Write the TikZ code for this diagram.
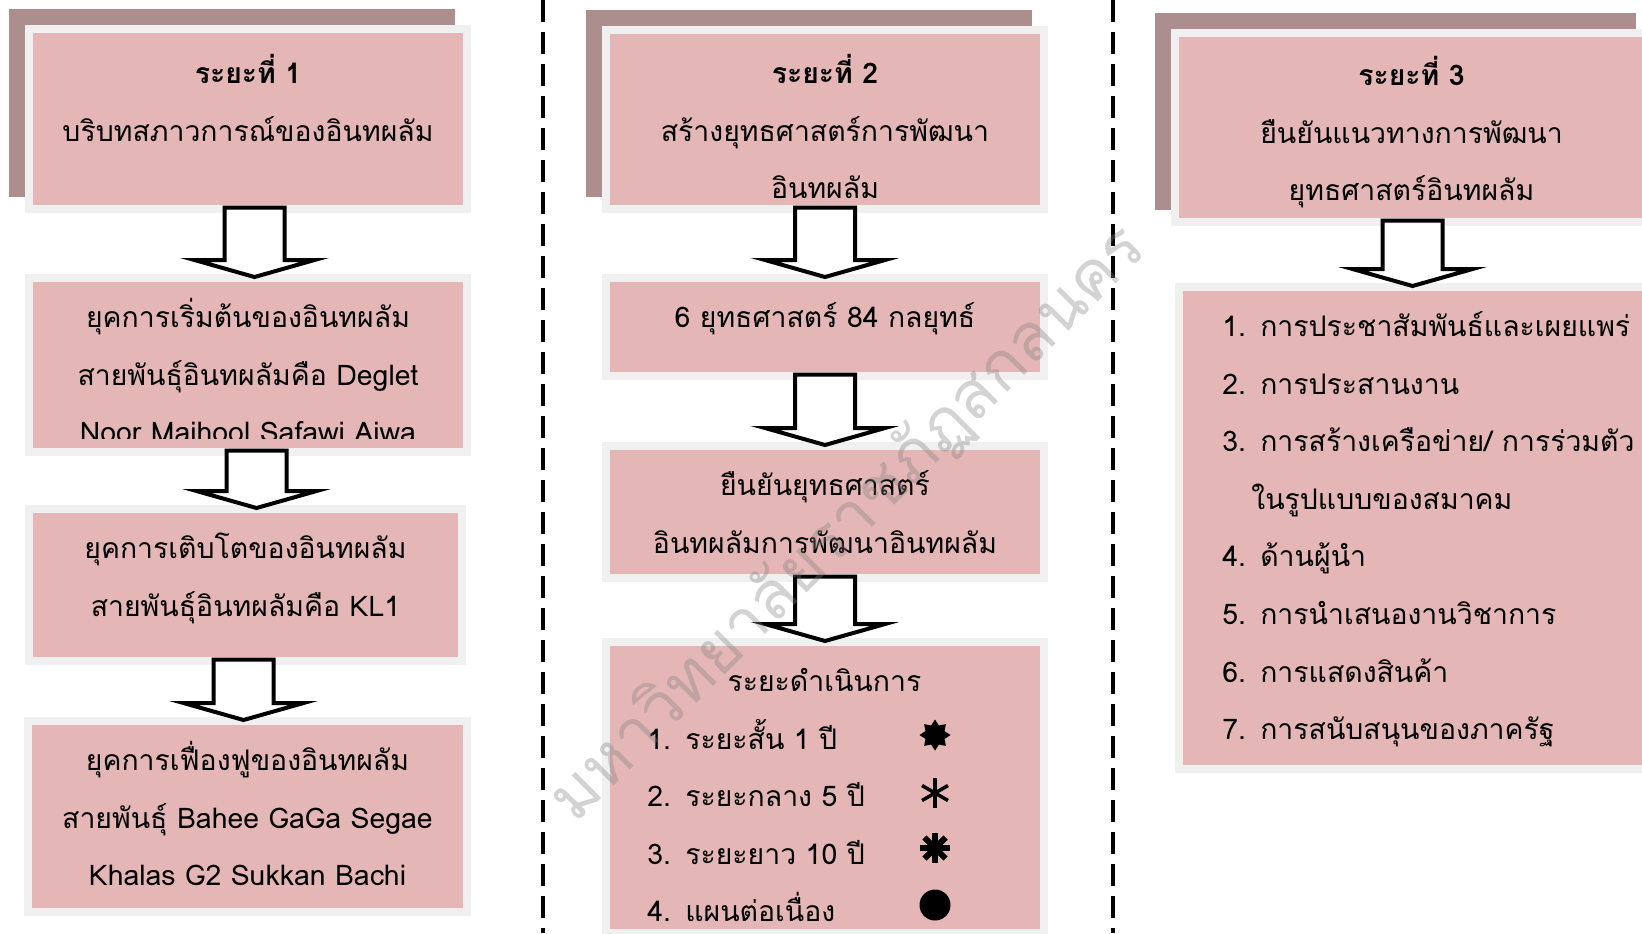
\documentclass[tikz,border=0pt]{standalone}
\usepackage{fontspec}
\setmainfont[Script=Thai]{Loma}
\newfontfamily\thaifont[Script=Thai]{Loma}
\usepackage{tikz}
\usetikzlibrary{positioning, calc, shapes.geometric}

\definecolor{boxpink}{RGB}{228,182,182}
\definecolor{framegrey}{RGB}{240,240,240}
\definecolor{shadowmauve}{RGB}{173,142,143}

% outlined block arrow from the bottom of one box to the top of the next
\newcommand{\stagearrow}[3][0pt]{%
  \draw[blockarrow] let \p1=($(#2.south)+(#1,0)$), \p2=(#3.north) in
    (\x1-15pt,\y1-1.25pt) -- (\x1-15pt,\y2+11pt) -- (\x1-30pt,\y2+11pt)
    -- (\x1,\y2+2.5pt) -- (\x1+30pt,\y2+11pt) -- (\x1+15pt,\y2+11pt)
    -- (\x1+15pt,\y1-1.25pt) -- cycle;}

\begin{document}
\begin{tikzpicture}[x=0.5pt, y=-0.5pt,
    stagebox/.style={rectangle, fill=boxpink, inner sep=0pt, outer sep=0pt,
      preaction={draw=framegrey, line width=8pt}},
    headbox/.style={preaction={fill=shadowmauve, draw=shadowmauve, line width=8pt,
      transform canvas={shift={(-8.25pt,8.25pt)}}}, stagebox},
    boxtext/.style={inner sep=0pt, align=center, text width=#1,
      execute at begin node={\rule{0pt}{20pt}},
      font=\thaifont\fontsize{14.2pt}{28.8pt}\selectfont},
    boxtext/.default=215pt,
    listtext/.style={boxtext=#1, align=left},
    blockarrow/.style={draw=black, fill=white, line width=2pt, line join=miter},
    divider/.style={line width=2pt, dash pattern=on 11pt off 5pt},
    watermark/.style={text=gray, text opacity=0.35,
      font=\thaifont\fontsize{33pt}{40pt}\selectfont}]
  \path[use as bounding box, clip] (0,0) rectangle (1642,933);

  % phase 1
  \node[headbox, minimum width=215pt, minimum height=86pt] (p1a) at (248,119) {};
  \node[stagebox, minimum width=215pt, minimum height=83pt, below=38.5pt of p1a] (p1b) {};
  \node[stagebox, minimum width=212.5pt, minimum height=72pt, below=32.5pt of p1b, xshift=-1.25pt] (p1c) {};
  \node[stagebox, minimum width=215.5pt, minimum height=91.5pt, below=34pt of p1c, xshift=1pt] (p1d) {};

  \node[boxtext, below=5pt of p1a.north] (t1a) {{\bfseries ระยะที่ 1}\\บริบทสภาวการณ์ของอินทผลัม};
  \begin{scope}
    \clip (p1b.north west) rectangle ($(p1b.south east)+(0,-10)$); % last line is cut off
    \node[boxtext, below=2.5pt of p1b.north] (t1b) {ยุคการเริ่มต้นของอินทผลัม\\สายพันธุ์อินทผลัมคือ Deglet\\Noor Majhool Safawi Ajwa};
  \end{scope}
  \node[boxtext, below=2.5pt of p1c.north] (t1c) {ยุคการเติบโตของอินทผลัม\\สายพันธุ์อินทผลัมคือ KL1};
  \node[boxtext, below=2.5pt of p1d.north] (t1d) {ยุคการเฟื่องฟูของอินทผลัม\\สายพันธุ์ Bahee GaGa Segae\\Khalas G2 Sukkan Bachi};

  \stagearrow[3.25pt]{p1a}{p1b}
  \stagearrow[4.25pt]{p1b}{p1c}
  \stagearrow[-1pt]{p1c}{p1d}

  % phase 2
  \node[headbox, minimum width=215pt, minimum height=85.5pt] (p2a) at (825,119.5) {};
  \node[stagebox, minimum width=215pt, minimum height=45pt, below=38.5pt of p2a] (p2b) {};
  \node[stagebox, minimum width=215pt, minimum height=62pt, below=39pt of p2b] (p2c) {};
  \node[stagebox, minimum width=215pt, minimum height=141.5pt, below=36pt of p2c] (p2d) {};

  \node[boxtext, below=4.5pt of p2a.north] (t2a) {{\bfseries ระยะที่ 2}\\สร้างยุทธศาสตร์การพัฒนา\\อินทผลัม};
  \node[boxtext, below=2.5pt of p2b.north] (t2b) {6 ยุทธศาสตร์ 84 กลยุทธ์};
  \node[boxtext, below=2.5pt of p2c.north] (t2c) {ยืนยันยุทธศาสตร์\\อินทผลัมการพัฒนาอินทผลัม};
  \node[listtext=177pt, below right=2.5pt and 18.5pt of p2d.north west] (t2d)
    {\makebox[177pt][c]{ระยะดำเนินการ}\\1. ระยะสั้น 1 ปี\\2. ระยะกลาง 5 ปี\\3. ระยะยาว 10 ปี\\4. แผนต่อเนื่อง};

  \node[star, star points=8, star point ratio=1.5, fill=black, inner sep=0pt, minimum size=15.5pt]
    (sym1) at ($(p2d.north west)+(325,89)$) {};
  \coordinate (sym2) at ($(p2d.north west)+(325,147)$);
  \coordinate (sym3) at ($(p2d.north west)+(325,202)$);
  \node[circle, fill=black, inner sep=0pt, minimum size=15.5pt] (sym4) at ($(p2d.north west)+(325,259)$) {};
  \foreach \a in {90,30,150}
    \draw[line width=1.75pt] ($(sym2)+(\a:7.5pt)$) -- ($(sym2)+(\a+180:7.5pt)$);
  \foreach \a in {0,45,90,135}
    \draw[line width=3pt] ($(sym3)+(\a:7.5pt)$) -- ($(sym3)+(\a+180:7.5pt)$);

  \stagearrow{p2a}{p2b}
  \stagearrow{p2b}{p2c}
  \stagearrow{p2c}{p2d}

  % phase 3
  \node[headbox, minimum width=232.5pt, minimum height=90.5pt] (p3a) at (1411.5,127.5) {};
  \node[stagebox, minimum width=230.5pt, minimum height=236.75pt, below=36.5pt of p3a, xshift=1pt] (p3b) {};

  \node[boxtext=232.5pt, below=4pt of p3a.north] (t3a) {{\bfseries ระยะที่ 3}\\ยืนยันแนวทางการพัฒนา\\ยุทธศาสตร์อินทผลัม};
  \node[listtext=210pt, below right=2.5pt and 19.5pt of p3b.north west] (t3b)
    {1. การประชาสัมพันธ์และเผยแพร่\\2. การประสานงาน\\3. การสร้างเครือข่าย/ การร่วมตัว\\\hspace*{14.5pt}ในรูปแบบของสมาคม\\4. ด้านผู้นำ\\5. การนำเสนองานวิชาการ\\6. การแสดงสินค้า\\7. การสนับสนุนของภาครัฐ};

  \stagearrow[0.5pt]{p3a}{p3b}

  % column separators
  \coordinate (d1top) at (542.5,0);
  \coordinate (d1bot) at (542.5,933);
  \coordinate (d2top) at (1113,0);
  \coordinate (d2bot) at (1113,933);
  \draw[divider] (d1top) -- (d1bot);
  \draw[divider] (d2top) -- (d2bot);

  \node[watermark, rotate=45] (wm) at (848,524) {มหาวิทยาลัยราชภัฏสกลนคร};
\end{tikzpicture}
\end{document}
